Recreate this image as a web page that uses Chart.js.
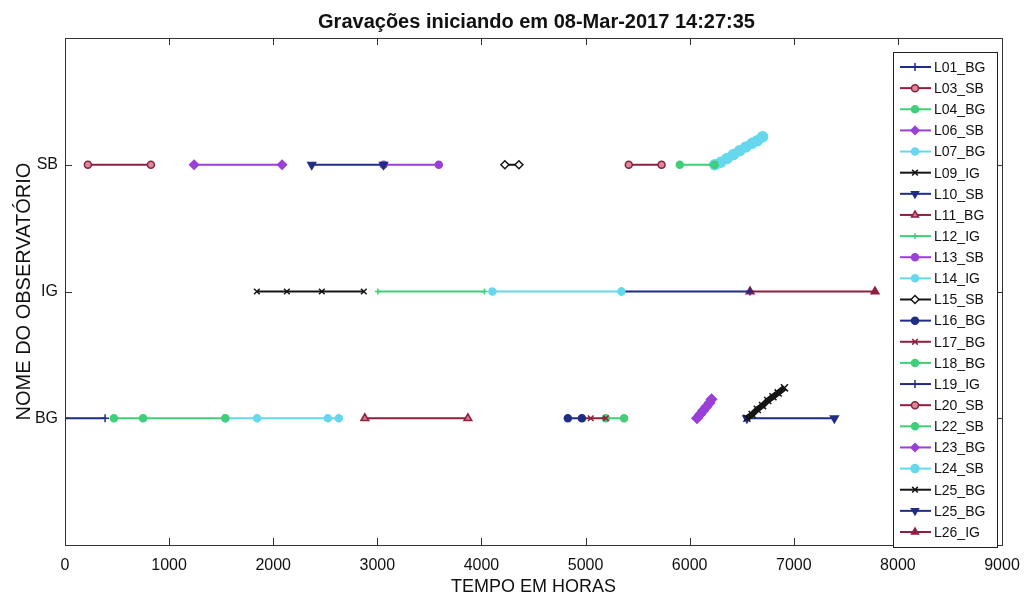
<!DOCTYPE html>
<html>
<head>
<meta charset="utf-8">
<script src="https://cdn.jsdelivr.net/npm/chart.js@4.4.1/dist/chart.umd.min.js"></script>
<style>
  html, body { margin: 0; padding: 0; background: #fff; }
  #wrap { width: 1025px; height: 598px; }
</style>
</head>
<body>
<div id="wrap"><canvas id="grafico"></canvas></div>
<script>
// linhas do eixo y (1 = BG, 2 = IG, 3 = SB)
const rowLabels = ["BG", "IG", "SB"];

const seriesNames = [
  "L01_BG", "L03_SB", "L04_BG", "L06_SB", "L07_BG", "L09_IG", "L10_SB", "L11_BG",
  "L12_IG", "L13_SB", "L14_IG", "L15_SB", "L16_BG", "L17_BG", "L18_BG", "L19_IG",
  "L20_SB", "L22_SB", "L23_BG", "L24_SB", "L25_BG", "L25_BG", "L26_IG"
];

// tempo em horas de cada ponto
const seriesTimes = [
  [0, 385],
  [220, 825],
  [470, 750, 1540],
  [1240, 2085],
  [1540, 1845, 2525, 2630],
  [1843, 2131, 2467, 2870],
  [2370, 3060],
  [2880, 3870],
  [3005, 4030],
  [3060, 3590],
  [4105, 5345],
  [4225, 4360],
  [4830, 4965],
  [4965, 5050, 5195],
  [5195, 5370],
  [5345, 6580],
  [5415, 5730],
  [5905, 6240],
  [6070, 6100, 6130, 6160, 6190, 6210],
  [6240, 6300, 6360, 6420, 6480, 6540, 6600, 6650, 6700],
  [6550, 6600, 6650, 6700, 6750, 6800, 6850, 6910],
  [6550, 7390],
  [6580, 7780]
];

// observatório (valor no eixo y) de cada ponto
const seriesLevels = [
  [1, 1],
  [3, 3],
  [1, 1, 1],
  [3, 3],
  [1, 1, 1, 1],
  [2, 2, 2, 2],
  [3, 3],
  [1, 1],
  [2, 2],
  [3, 3],
  [2, 2],
  [3, 3],
  [1, 1],
  [1, 1, 1],
  [1, 1],
  [2, 2],
  [3, 3],
  [3, 3],
  [1.0, 1.03, 1.06, 1.09, 1.12, 1.15],
  [3.0, 3.02, 3.05, 3.08, 3.11, 3.14, 3.17, 3.19, 3.22],
  [1.0, 1.03, 1.07, 1.1, 1.14, 1.17, 1.2, 1.24],
  [1, 1],
  [2, 2]
];

// estilos (cor, marcador)
const NAVY = "#1f2d86", VINHO = "#8e1f3f", VERDE = "#3fcf78", ROXO = "#9a3fd8", CIANO = "#66d8ee", PRETO = "#151515";
const estilos = [
  { c: NAVY,  m: "cross",    f: NAVY,    r: 4 },
  { c: VINHO, m: "circle",   f: "#d88a9a", r: 3.5 },
  { c: VERDE, m: "circle",   f: VERDE,   r: 3.5 },
  { c: ROXO,  m: "rectRot",  f: ROXO,    r: 4.5 },
  { c: CIANO, m: "circle",   f: CIANO,   r: 3.5 },
  { c: PRETO, m: "crossRot", f: PRETO,   r: 4 },
  { c: NAVY,  m: "triangle", f: NAVY,    r: 4.5, rot: 180 },
  { c: VINHO, m: "triangle", f: "#d07a90", r: 4.5 },
  { c: VERDE, m: "cross",    f: VERDE,   r: 3 },
  { c: ROXO,  m: "circle",   f: ROXO,    r: 3.5 },
  { c: CIANO, m: "circle",   f: CIANO,   r: 3.5 },
  { c: PRETO, m: "rectRot",  f: "#ffffff", r: 4 },
  { c: NAVY,  m: "circle",   f: NAVY,    r: 3.5 },
  { c: VINHO, m: "crossRot", f: VINHO,   r: 4 },
  { c: VERDE, m: "circle",   f: VERDE,   r: 3.5 },
  { c: NAVY,  m: "cross",    f: NAVY,    r: 4 },
  { c: VINHO, m: "circle",   f: "#d88a9a", r: 3.5 },
  { c: VERDE, m: "circle",   f: VERDE,   r: 3.5 },
  { c: ROXO,  m: "rectRot",  f: ROXO,    r: 5, bw: 4 },
  { c: CIANO, m: "circle",   f: CIANO,   r: 5, bw: 5 },
  { c: PRETO, m: "crossRot", f: PRETO,   r: 5, bw: 6 },
  { c: NAVY,  m: "triangle", f: NAVY,    r: 4.5, rot: 180 },
  { c: VINHO, m: "triangle", f: VINHO,   r: 4.5 }
];

const FONTE = '"Liberation Sans", Arial, Helvetica, sans-serif';
const TITULO = "Gravações iniciando em 08-Mar-2017 14:27:35";

const datasets = seriesNames.map((nome, i) => {
  const e = estilos[i];
  return {
    label: nome,
    data: seriesTimes[i].map((t, k) => ({ x: t, y: seriesLevels[i][k] })),
    borderColor: e.c,
    backgroundColor: e.f,
    borderWidth: e.bw || 2,
    pointStyle: e.m,
    pointRadius: e.r,
    pointRotation: e.rot || 0,
    pointBorderColor: e.c,
    pointBackgroundColor: e.f,
    pointBorderWidth: 1.5,
    tension: 0
  };
});

// moldura, ticks para dentro, titulo e legenda dentro do grafico
const molduraPlugin = {
  id: "moldura",
  afterDraw(chart) {
    const ctx = chart.ctx;
    const a = chart.chartArea;
    const sx = chart.scales.x, sy = chart.scales.y;
    ctx.save();
    ctx.strokeStyle = "#333";
    ctx.lineWidth = 1;
    ctx.strokeRect(Math.round(a.left) + 0.5, Math.round(a.top) + 0.5, Math.round(a.width), Math.round(a.height));
    ctx.beginPath();
    for (let v = 0; v <= 9000; v += 1000) {
      const px = Math.round(sx.getPixelForValue(v)) + 0.5;
      ctx.moveTo(px, a.bottom); ctx.lineTo(px, a.bottom - 7);
      ctx.moveTo(px, a.top); ctx.lineTo(px, a.top + 7);
    }
    for (let v = 1; v <= 3; v++) {
      const py = Math.round(sy.getPixelForValue(v)) + 0.5;
      ctx.moveTo(a.left, py); ctx.lineTo(a.left + 7, py);
      ctx.moveTo(a.right, py); ctx.lineTo(a.right - 7, py);
    }
    ctx.stroke();

    // titulo centrado no grafico
    ctx.fillStyle = "#111";
    ctx.font = "bold 20px " + FONTE;
    ctx.textAlign = "center";
    ctx.textBaseline = "middle";
    ctx.fillText(TITULO, (a.left + a.right) / 2 + 3, 22);

    // legenda
    const bx = a.right - 109, by = a.top + 14, bw = 104, bh = 495;
    ctx.fillStyle = "#fff";
    ctx.fillRect(bx, by, bw, bh);
    ctx.strokeStyle = "#222";
    ctx.strokeRect(bx + 0.5, by + 0.5, bw, bh);
    const passo = (bh - 30) / (seriesNames.length - 1);
    ctx.font = "14px " + FONTE;
    ctx.textAlign = "left";
    seriesNames.forEach((nome, i) => {
      const e = estilos[i];
      const yy = by + 15 + i * passo;
      ctx.strokeStyle = e.c;
      ctx.lineWidth = 2;
      ctx.beginPath();
      ctx.moveTo(bx + 7, yy); ctx.lineTo(bx + 38, yy);
      ctx.stroke();
      ctx.fillStyle = e.f;
      ctx.strokeStyle = e.c;
      ctx.lineWidth = 1.5;
      if (Chart.helpers && Chart.helpers.drawPoint) {
        Chart.helpers.drawPoint(ctx, { pointStyle: e.m, radius: Math.min(e.r, 4), rotation: e.rot || 0, borderWidth: 1.5 }, bx + 22, yy);
      } else {
        ctx.beginPath(); ctx.arc(bx + 22, yy, 3.5, 0, Math.PI * 2); ctx.fill(); ctx.stroke();
      }
      ctx.fillStyle = "#111";
      ctx.fillText(nome, bx + 41, yy + 1);
    });
    ctx.restore();
  }
};

new Chart(document.getElementById("grafico"), {
  type: "line",
  data: { datasets: datasets },
  options: {
    responsive: true,
    maintainAspectRatio: false,
    animation: false,
    layout: { padding: { left: 0, right: 23, top: 38, bottom: 0 } },
    plugins: {
      legend: { display: false },
      tooltip: { enabled: false },
      title: { display: false }
    },
    scales: {
      x: {
        type: "linear",
        min: 0,
        max: 9000,
        afterFit(s) { s.height = 53; s.paddingLeft = 0; s.paddingRight = 0; },
        ticks: {
          stepSize: 1000, color: "#111", padding: 11, maxRotation: 0,
          font: { family: FONTE, size: 16 },
          callback: v => String(v)
        },
        grid: { drawOnChartArea: false, drawTicks: false },
        border: { display: false },
        title: { display: true, text: "TEMPO EM HORAS", color: "#111", padding: { top: 2, bottom: 0 }, font: { family: FONTE, size: 18 } }
      },
      y: {
        type: "linear",
        min: 0,
        max: 4,
        afterFit(s) { s.width = 65; s.paddingTop = 0; s.paddingBottom = 0; },
        afterBuildTicks(s) { s.ticks = [1, 2, 3].map(v => ({ value: v })); },
        ticks: {
          color: "#111",
          padding: 7,
          font: { family: FONTE, size: 16 },
          callback: v => rowLabels[v - 1] || ""
        },
        grid: { drawOnChartArea: false, drawTicks: false },
        border: { display: false },
        title: { display: true, text: "NOME DO OBSERVATÓRIO", color: "#111", padding: { top: 12, bottom: 0 }, font: { family: FONTE, size: 20 } }
      }
    }
  },
  plugins: [molduraPlugin]
});
</script>
</body>
</html>
